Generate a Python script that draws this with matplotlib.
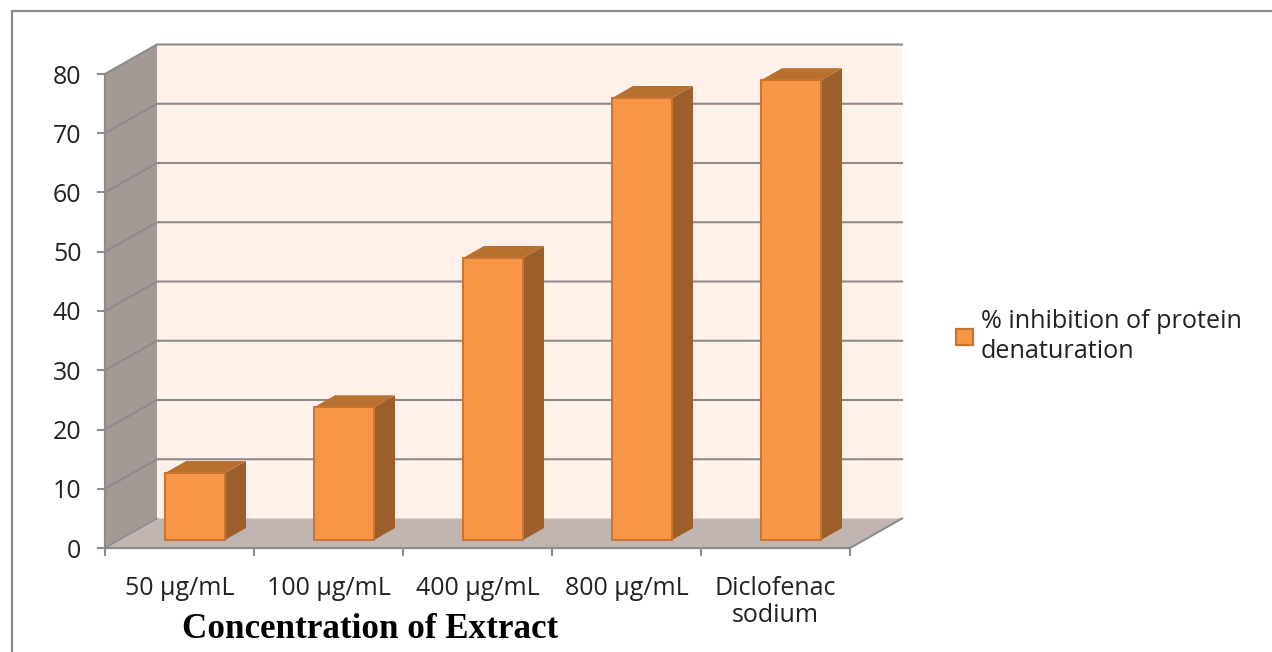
import matplotlib
matplotlib.use("Agg")
import matplotlib.pyplot as plt
from matplotlib.patches import Polygon, Patch
from matplotlib.lines import Line2D

categories = ["50 µg/mL", "100 µg/mL", "400 µg/mL", "800 µg/mL", "Diclofenac\nsodium"]
inhibition = [11.3, 22.4, 47.6, 74.6, 77.6]
yticks = [0, 10, 20, 30, 40, 50, 60, 70, 80]

W, H = 1272, 652
# front plane of the fake 3d box in pixels
left, right, bottom, top = 105, 850, 548, 74

fig = plt.figure(figsize=(W / 100, H / 100), dpi=100)
plt.rcParams['font.family'] = ['Open Sans', 'DejaVu Sans']
ax = fig.add_axes([left / W, 1 - bottom / H, (right - left) / W, (bottom - top) / H])
ax.set_xlim(0, 5)
ax.set_ylim(0, 80)
ax.patch.set_visible(False)

# depth offsets in data units
ux = 5 / (right - left)
uy = 80 / (bottom - top)
dx, dy = 52 * ux, 29.5 * uy       # box depth
bx, by = 60 * ux, 8 * uy          # where the bar starts inside its slot
bw = 60 * ux                      # bar width
sx, sy = 21 * ux, 12 * uy         # bar depth

grey = '#8c8c8c'


def poly(pts, color, z, ec='none', lw=0):
    ax.add_patch(Polygon(pts, closed=True, facecolor=color, edgecolor=ec, linewidth=lw,
                         zorder=z, clip_on=False))


# walls and floor
poly([(dx, dy), (5 + dx, dy), (5 + dx, 80 + dy), (dx, 80 + dy)], '#fff0e9', 1)
poly([(0, 0), (dx, dy), (dx, 80 + dy), (0, 80)], '#a49a95', 1)
poly([(0, 0), (5, 0), (5 + dx, dy), (dx, dy)], '#c0b5b0', 1)

# grid lines
for t in yticks[1:]:
    ax.add_line(Line2D([0, dx, 5 + dx], [t, t + dy, t + dy], color=grey, lw=1.5, zorder=2, clip_on=False))
ax.add_line(Line2D([5, 5 + dx], [0, dy], color=grey, lw=1.5, zorder=2, clip_on=False))
ax.add_line(Line2D([0, dx], [0, dy], color=grey, lw=1.0, zorder=2, clip_on=False))

# bars
for i, v in enumerate(inhibition):
    x0 = i + bx
    x1 = x0 + bw
    y0 = by
    y1 = by + v
    poly([(x1, y0), (x1 + sx, y0 + sy), (x1 + sx, y1 + sy), (x1, y1)], '#9c5f2a', 3)
    poly([(x0, y1), (x1, y1), (x1 + sx, y1 + sy), (x0 + sx, y1 + sy)], '#b87030', 3)
    poly([(x0, y0), (x1, y0), (x1, y1), (x0, y1)], '#f79646', 4, ec='#c8752f', lw=1.4)

# axes
for s in ['top', 'right']:
    ax.spines[s].set_visible(False)
for s in ['left', 'bottom']:
    ax.spines[s].set_color(grey)
    ax.spines[s].set_linewidth(1.6)
    ax.spines[s].set_zorder(5)
ax.set_yticks(yticks)
ax.tick_params(axis='y', length=6, width=1.5, color=grey, labelsize=18, labelcolor='#222222', pad=11)
ax.set_xticks(range(6))
ax.set_xticklabels([])
ax.tick_params(axis='x', which='major', length=6, width=1.5, color=grey)
ax.set_xticks([i + 0.5 for i in range(5)], minor=True)
ax.set_xticklabels(categories, minor=True, fontsize=18, color='#222222', linespacing=1.1)
ax.tick_params(axis='x', which='minor', length=0, pad=20.5)

fig.text(370.5 / W, 1 - 629 / H, "Concentration of Extract", family='Liberation Serif', weight='bold',
         fontsize=25.2, ha='center', va='center', color='black')

leg = ax.legend(handles=[Patch(facecolor='#f79646', edgecolor='#c8752f', linewidth=1.6,
                               label="% inhibition of protein\ndenaturation")],
                frameon=False, fontsize=18.2, labelcolor='#222222', handlelength=0.67, handleheight=0.62,
                handletextpad=0.32, borderpad=0, labelspacing=0, borderaxespad=0,
                loc='upper left', bbox_to_anchor=(956 / W, 1 - 309 / H), bbox_transform=fig.transFigure)
leg.get_texts()[0].set_linespacing(1.25)

# frame around the picture
fig.add_artist(Line2D([12 / W, 12 / W, 1], [0, 1 - 11 / H, 1 - 11 / H], color='#8c8c8c', lw=1.6))

fig.savefig("out.png", dpi=100)
